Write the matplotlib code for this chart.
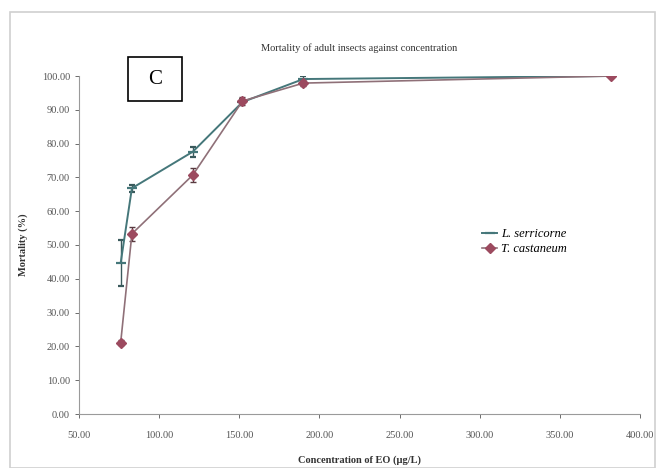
import matplotlib
matplotlib.use("Agg")
import matplotlib.pyplot as plt
from matplotlib.patches import Rectangle
from matplotlib.lines import Line2D

# Concentration of essential oil (µg/L) and mortality (%) of adult insects
conc = [76, 83, 121, 152, 190, 382]
serricorne = [44.7, 66.8, 77.6, 92.3, 99.1, 100.0]
serricorne_err = [6.7, 1.0, 1.5, 1.0, 0.8, 0.3]
castaneum = [21.1, 53.3, 70.7, 92.6, 97.9, 100.0]
castaneum_err = [0.8, 2.0, 2.2, 1.2, 0.8, 0.3]

x_ticks = [50, 100, 150, 200, 250, 300, 350, 400]
y_ticks = [0, 10, 20, 30, 40, 50, 60, 70, 80, 90, 100]

plt.rcParams['font.family'] = ['Liberation Serif', 'DejaVu Serif']

fig = plt.figure(figsize=(6.56, 4.68), dpi=100)
fig.patches.append(Rectangle((10 / 656, 0.0), 645 / 656, 1 - 12 / 468,
                             transform=fig.transFigure, fill=False,
                             edgecolor='#d0d0d0', linewidth=1.2))

ax = fig.add_axes([79 / 656, 54 / 468, 561 / 656, 338 / 468])

teal = '#45777a'
red = '#9c4a5f'
red_line = '#8f7078'

ax.errorbar(conc, serricorne, yerr=serricorne_err, color=teal, lw=1.4,
            marker='_', markersize=7, mew=1.6, ecolor='#3a5a5c', elinewidth=1.0,
            capsize=2, zorder=3)
ax.errorbar(conc, castaneum, yerr=castaneum_err, color=red_line, lw=1.2,
            marker='D', markersize=5, markerfacecolor=red, markeredgecolor=red,
            ecolor='#5a3a40', elinewidth=1.0, capsize=2, zorder=3)

ax.set_xlim(50, 400)
ax.set_ylim(0, 100)
ax.set_xticks(x_ticks)
ax.set_yticks(y_ticks)
ax.set_xticklabels([f'{v:.2f}' for v in x_ticks])
ax.set_yticklabels([f'{v:.2f}' for v in y_ticks])
ax.tick_params(axis='both', labelsize=7.5, colors='#555555', length=3, width=0.6)
ax.tick_params(axis='x', pad=9)
for s in ['top', 'right']:
    ax.spines[s].set_visible(False)
for s in ['left', 'bottom']:
    ax.spines[s].set_color('#9a9a9a')
    ax.spines[s].set_linewidth(0.8)

ax.set_title('Mortality of adult insects against concentration', fontsize=7.5,
             color='#333333', pad=18)
ax.set_ylabel('Mortality (%)', fontsize=7.5, fontweight='bold', color='#333333',
              labelpad=10)
ax.set_xlabel('Concentration of EO (µg/L)', fontsize=7.5, fontweight='bold',
              color='#333333', labelpad=11)

handles = [
    Line2D([], [], color=teal, lw=1.4, marker='_', markersize=7, mew=1.6),
    Line2D([], [], color=red_line, lw=1.2, marker='D', markersize=5,
           markerfacecolor=red, markeredgecolor=red),
]
leg = ax.legend(handles, ['L. serricorne', 'T. castaneum'], loc='upper left',
                bbox_to_anchor=(0.71, 0.565), frameon=False, fontsize=9,
                handlelength=1.2, handletextpad=0.3, labelspacing=0.25,
                borderaxespad=0)
for t in leg.get_texts():
    t.set_fontstyle('italic')

fig.patches.append(Rectangle((128 / 656, 1 - 101 / 468), 54 / 656, 44 / 468,
                             transform=fig.transFigure, facecolor='white',
                             edgecolor='black', linewidth=1.2, zorder=5))
fig.text(155 / 656, 1 - 80 / 468, 'C', fontsize=15, ha='center', va='center',
         zorder=6)

fig.savefig('out.png', dpi=100)
